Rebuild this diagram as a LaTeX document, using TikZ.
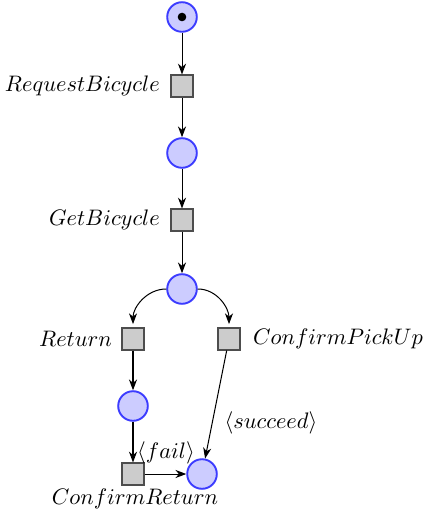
\documentclass[tikz,border=0pt]{standalone}
\usetikzlibrary{arrows.meta}

\begin{document}
\begin{tikzpicture}[x=0.446pt,y=0.446pt,yscale=-1,xscale=1,
  place/.style={circle,draw={rgb, 255:red, 60; green, 60; blue, 255},fill={rgb, 255:red, 204; green, 204; blue, 255},line width=0.85pt,minimum size=13.2pt,inner sep=0pt},
  transition/.style={rectangle,draw={rgb, 255:red, 77; green, 77; blue, 77},fill={rgb, 255:red, 204; green, 204; blue, 204},line width=0.9pt,minimum size=9.4pt,inner sep=0pt},
  arc/.style={-{Stealth[length=4.8pt,width=3.6pt,inset=1.5pt]},line width=0.45pt}]
\useasboundingbox (0,0) rectangle (422,518); %set diagram left start at 0, and has height of 518

%Places
\node [place] (start) at (182,17) {};
\node [place] (requested) at (182,153) {};
\node [place] (gotbike) at (182,289) {};
\node [place] (returned) at (133,406) {};
\node [place] (done) at (202,474) {};
%Token
\fill (start.center) circle (4.3);

%Transitions
\node [transition] (request) at (182,86) {};
\node [transition] (get) at (182,220) {};
\node [transition] (ret) at (133,339) {};
\node [transition] (pickup) at (229,339) {};
\node [transition] (confret) at (133,474) {};

%Arcs (y axis points down, so -90 is up)
\draw [arc] (start) -- (request);
\draw [arc] (request) -- (requested);
\draw [arc] (requested) -- (get);
\draw [arc] (get) -- (gotbike);
\draw [arc,shorten >=1.5pt] (gotbike.west) to [out=180,in=-90] (ret.north);
\draw [arc,shorten >=1.5pt] (gotbike.east) to [out=0,in=-90] (pickup.north);
\draw [arc] (ret) -- (returned);
\draw [arc] (returned) -- (confret);
\draw [arc] (confret) -- (done);
\draw [arc] (pickup) -- (done);

% Text Node
\draw (162,86) node [anchor=east][inner sep=0.75pt] (lrequest) {$RequestBicycle$};
% Text Node
\draw (162,220) node [anchor=east][inner sep=0.75pt] (lget) {$GetBicycle$};
% Text Node
\draw (114,339) node [anchor=east][inner sep=0.75pt] (lret) {$Return$};
% Text Node
\draw (251,339) node [anchor=west][inner sep=0.75pt] (lpickup) {$ConfirmPickUp$};
% Text Node
\draw (135,499) node [inner sep=0.75pt] (lconfret) {$ConfirmReturn$};
% Text Node
\draw (166,453) node [inner sep=0.75pt] (lfail) {$\langle fail\rangle$};
% Text Node
\draw (271,423) node [inner sep=0.75pt] (lsucceed) {$\langle succeed\rangle$};

\end{tikzpicture}
\end{document}
